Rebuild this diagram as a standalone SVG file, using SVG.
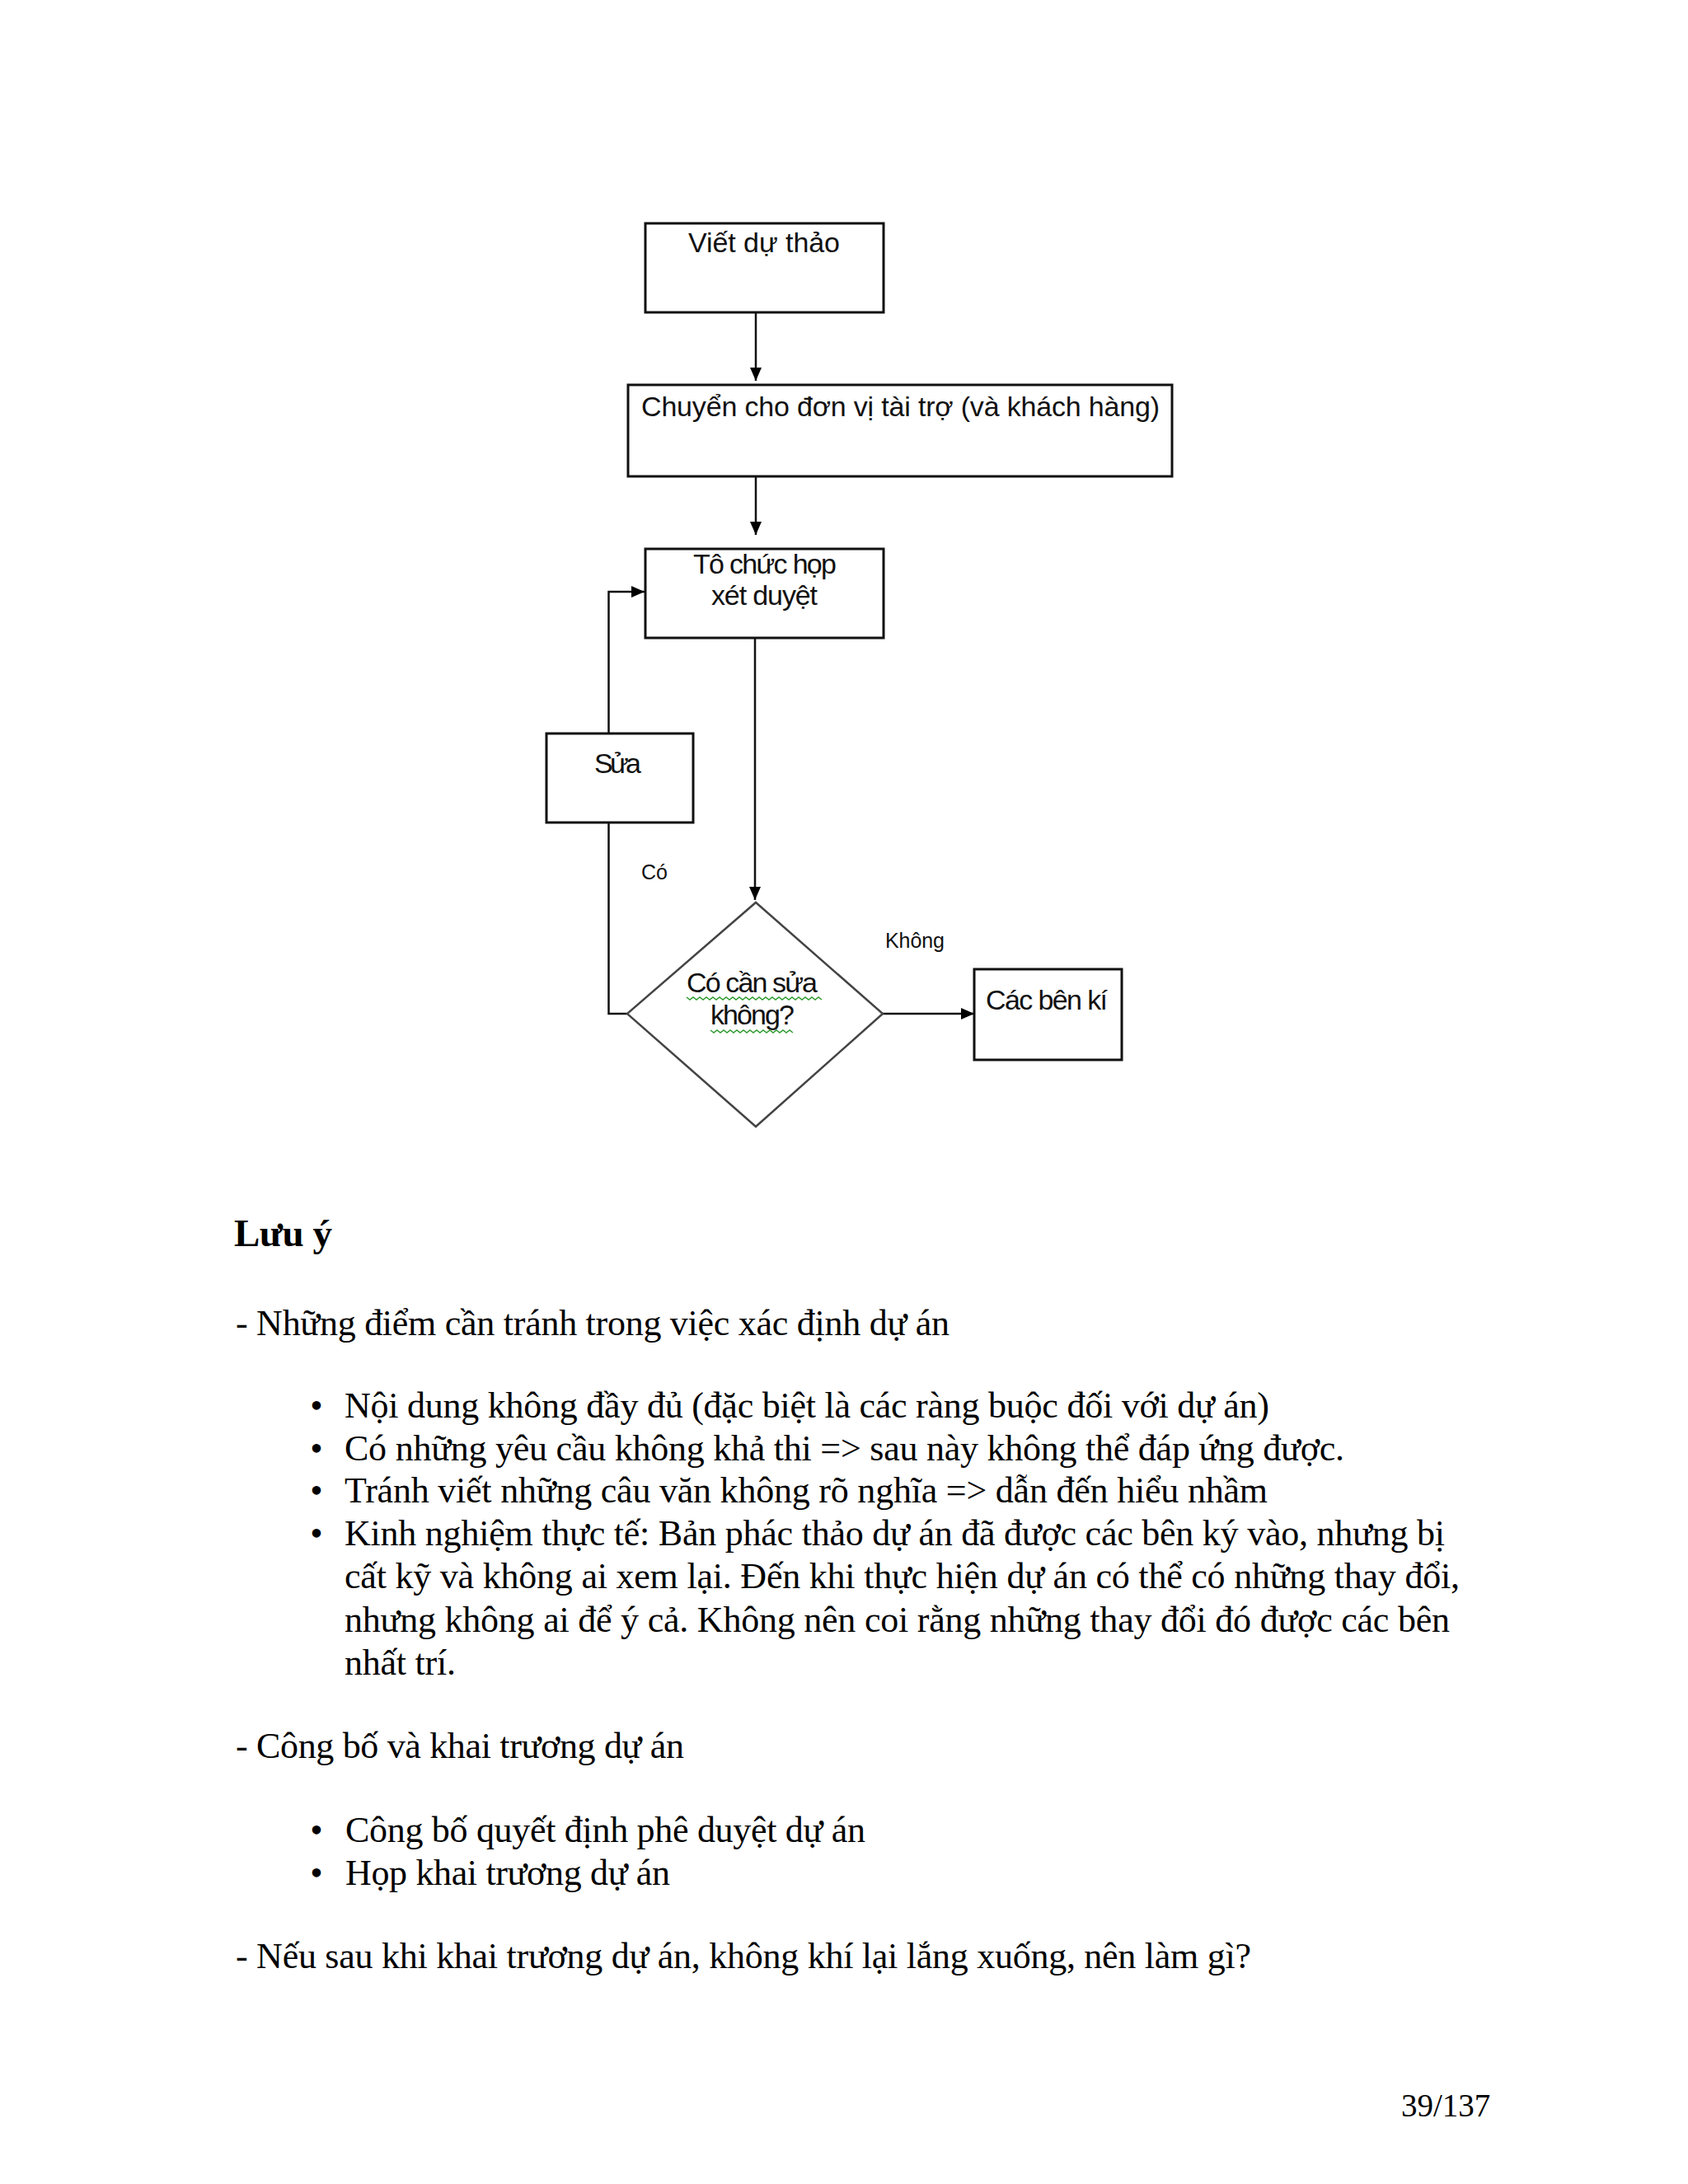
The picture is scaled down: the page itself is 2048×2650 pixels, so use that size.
<svg xmlns="http://www.w3.org/2000/svg" width="2048" height="2650" viewBox="0 0 2048 2650">
<defs>
<marker id="arr" markerUnits="userSpaceOnUse" markerWidth="16" markerHeight="14" refX="16" refY="7" orient="auto">
<path d="M0,0 L16,7 L0,14 z" fill="#000"/>
</marker>
<style>
.box{fill:#fff;stroke:#111;stroke-width:3}
.dia{fill:#fff;stroke:#444;stroke-width:2.5}
.lbl{font-family:"Liberation Sans",Arial,sans-serif;font-size:34px;fill:#111}
.sm{font-family:"Liberation Sans",Arial,sans-serif;font-size:25px;fill:#111}
.con{fill:none;stroke:#111;stroke-width:2.5}
.conA{fill:none;stroke:#111;stroke-width:2.5;marker-end:url(#arr)}
.wave{fill:none;stroke:#2e9a2e;stroke-width:1.5}
.body{font-family:"Liberation Serif","Times New Roman",serif;font-size:44px;fill:#000}
.pg{font-family:"Liberation Serif","Times New Roman",serif;font-size:39px;fill:#000}
.head{font-family:"Liberation Serif","Times New Roman",serif;font-size:47px;font-weight:bold;fill:#000}
</style>
</defs>
<rect width="2048" height="2650" fill="#fff"/>

<g id="connectors">
<line class="conA" x1="917" y1="379" x2="917" y2="462"/>
<line class="conA" x1="917" y1="568" x2="917" y2="649"/>
<line class="conA" x1="916" y1="774" x2="916" y2="1092"/>
<polyline class="conA" points="738.5,890 738.5,718 782,718"/>
<polyline class="con" points="738.5,998 738.5,1230 761,1230"/>
<line class="conA" x1="1071" y1="1230" x2="1182" y2="1230"/>
<text class="sm" x="778" y="1067" textLength="32">Có</text>
<text class="sm" x="1074" y="1150" textLength="72">Không</text>
</g>

<g id="node-viet-du-thao">
<rect class="box" x="783" y="271" width="289" height="108"/>
<text class="lbl" x="835" y="306" textLength="184">Viết dự thảo</text>
</g>

<g id="node-chuyen">
<rect class="box" x="762" y="467" width="660" height="111"/>
<text class="lbl" x="778" y="505" textLength="629">Chuyển cho đơn vị tài trợ (và khách hàng)</text>
</g>

<g id="node-to-chuc">
<rect class="box" x="783" y="666" width="289" height="108"/>
<text class="lbl" x="841" y="696" textLength="174">Tô chức họp</text>
<text class="lbl" x="863" y="734" textLength="129">xét duyệt</text>
</g>

<g id="node-sua">
<rect class="box" x="663" y="890" width="178" height="108"/>
<text class="lbl" x="721" y="938" textLength="57">Sửa</text>
</g>

<g id="node-decision">
<polygon class="dia" points="917,1095 1071,1230 917,1367 761,1230"/>
<text class="lbl" x="833" y="1204" textLength="159">Có cần sửa</text>
<text class="lbl" x="862" y="1243" textLength="102">không?</text>
<path class="wave" d="M833,1210 l4,3 l4,-3 l4,3 l4,-3 l4,3 l4,-3 l4,3 l4,-3 l4,3 l4,-3 l4,3 l4,-3 l4,3 l4,-3 l4,3 l4,-3 l4,3 l4,-3 l4,3 l4,-3 l4,3 l4,-3 l4,3 l4,-3 l4,3 l4,-3 l4,3 l4,-3 l4,3 l4,-3 l4,3 l4,-3 l4,3 l4,-3 l4,3 l4,-3 l4,3 l4,-3 l4,3 l4,-3 l4,3"/>
<path class="wave" d="M862,1250 l4,3 l4,-3 l4,3 l4,-3 l4,3 l4,-3 l4,3 l4,-3 l4,3 l4,-3 l4,3 l4,-3 l4,3 l4,-3 l4,3 l4,-3 l4,3 l4,-3 l4,3 l4,-3 l4,3 l4,-3 l4,3 l4,-3 l4,3"/>
</g>

<g id="node-cac-ben-ki">
<rect class="box" x="1182" y="1176" width="179" height="110"/>
<text class="lbl" x="1196" y="1225" textLength="148">Các bên kí</text>
</g>

<g id="text-body">
<text class="head" x="284" y="1512" textLength="119">Lưu ý</text>
<text class="body" x="286" y="1620" textLength="866">- Những điểm cần tránh trong việc xác định dự án</text>
<text class="body" x="384" y="1720" text-anchor="middle">•</text>
<text class="body" x="418" y="1720" textLength="1122">Nội dung không đầy đủ (đặc biệt là các ràng buộc đối với dự án)</text>
<text class="body" x="384" y="1772" text-anchor="middle">•</text>
<text class="body" x="418" y="1772" textLength="1213">Có những yêu cầu không khả thi =&gt; sau này không thể đáp ứng được.</text>
<text class="body" x="384" y="1823" text-anchor="middle">•</text>
<text class="body" x="418" y="1823" textLength="1120">Tránh viết những câu văn không rõ nghĩa =&gt; dẫn đến hiểu nhầm</text>
<text class="body" x="384" y="1875" text-anchor="middle">•</text>
<text class="body" x="418" y="1875" textLength="1335">Kinh nghiệm thực tế: Bản phác thảo dự án đã được các bên ký vào, nhưng bị</text>
<text class="body" x="418" y="1927" textLength="1353">cất kỹ và không ai xem lại. Đến khi thực hiện dự án có thể có những thay đổi,</text>
<text class="body" x="418" y="1980" textLength="1341">nhưng không ai để ý cả. Không nên coi rằng những thay đổi đó được các bên</text>
<text class="body" x="418" y="2032" textLength="135">nhất trí.</text>
<text class="body" x="286" y="2133" textLength="544">- Công bố và khai trương dự án</text>
<text class="body" x="384" y="2235" text-anchor="middle">•</text>
<text class="body" x="419" y="2235" textLength="631">Công bố quyết định phê duyệt dự án</text>
<text class="body" x="384" y="2287" text-anchor="middle">•</text>
<text class="body" x="419" y="2287" textLength="394">Họp khai trương dự án</text>
<text class="body" x="286" y="2388" textLength="1232">- Nếu sau khi khai trương dự án, không khí lại lắng xuống, nên làm gì?</text>
<text class="pg" x="1700" y="2568">39/137</text>
</g>
</svg>
